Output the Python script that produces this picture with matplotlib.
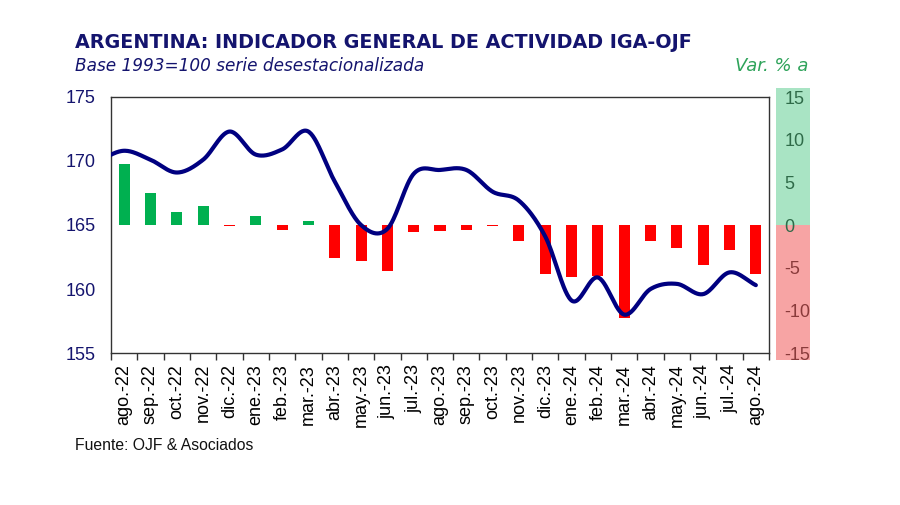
import numpy as np
import matplotlib
matplotlib.use("Agg")
import matplotlib.pyplot as plt
from matplotlib.patches import Rectangle
from matplotlib.transforms import blended_transform_factory

plt.rcParams["axes.unicode_minus"] = False

# ---------------- data ----------------
months = ["ago.-22", "sep.-22", "oct.-22", "nov.-22", "dic.-22", "ene.-23", "feb.-23",
          "mar.-23", "abr.-23", "may.-23", "jun.-23", "jul.-23", "ago.-23", "sep.-23",
          "oct.-23", "nov.-23", "dic.-23", "ene.-24", "feb.-24", "mar.-24", "abr.-24",
          "may.-24", "jun.-24", "jul.-24", "ago.-24"]

# IGA-OJF index, seasonally adjusted (left axis)
index_prev = 170.0  # jul.-22 (only partly visible at the left edge)
index_vals = [170.8, 170.1, 169.1, 170.1, 172.3, 170.5, 170.9, 172.3, 168.4, 165.0,
              164.7, 169.0, 169.3, 169.3, 167.6, 166.9, 164.1, 159.1, 160.9, 158.0,
              160.0, 160.4, 159.6, 161.3, 160.3]

# year-on-year % change (right axis)
yoy_vals = [7.2, 3.8, 1.5, 2.2, -0.1, 1.0, -0.6, 0.5, -3.9, -4.2, -5.4, -0.8, -0.7,
            -0.6, -0.1, -1.9, -5.7, -6.1, -6.0, -10.9, -1.9, -2.7, -4.7, -2.9, -5.7]

left_ticks = [155, 160, 165, 170, 175]
right_ticks = [-15, -10, -5, 0, 5, 10, 15]

# ---------------- style ----------------
NAVY = "#14146e"
LINE = "#000080"
GREEN_BAR = "#00b050"
RED_BAR = "#ff0000"
PANEL_GREEN = "#a9e4c4"
PANEL_RED = "#f7a4a4"

W, H = 900, 505
fig = plt.figure(figsize=(W / 100, H / 100), dpi=100)
fig.patch.set_facecolor("white")

def fx(px):
    return px / W

def fy(py):
    return 1 - py / H

L, R, T, B = 111, 769, 97, 353
ax = fig.add_axes([fx(L), fy(B), fx(R) - fx(L), fy(T) - fy(B)])
ax2 = ax.twinx()
line_ax = ax.twinx()

n = len(months)
x = np.arange(n)

# bars on the right axis
colors = [GREEN_BAR if v >= 0 else RED_BAR for v in yoy_vals]
ax2.bar(x, yoy_vals, width=0.42, color=colors, zorder=2)
ax2.set_ylim(-15, 15)

# smooth line (Catmull-Rom rendering through the monthly points)
xs = np.concatenate([[-1], x]).astype(float)
ys = np.array([index_prev] + index_vals, dtype=float)

def catmull(xp, yp, steps=30):
    px = np.concatenate([[2 * xp[0] - xp[1]], xp, [2 * xp[-1] - xp[-2]]])
    py = np.concatenate([[2 * yp[0] - yp[1]], yp, [2 * yp[-1] - yp[-2]]])
    ox, oy = [], []
    t = np.linspace(0, 1, steps, endpoint=False)
    for i in range(1, len(px) - 2):
        p0, p1, p2, p3 = py[i - 1], py[i], py[i + 1], py[i + 2]
        q0, q1, q2, q3 = px[i - 1], px[i], px[i + 1], px[i + 2]
        for arr, a0, a1, a2, a3 in ((oy, p0, p1, p2, p3), (ox, q0, q1, q2, q3)):
            arr.extend(0.5 * ((2 * a1) + (-a0 + a2) * t + (2 * a0 - 5 * a1 + 4 * a2 - a3) * t ** 2
                              + (-a0 + 3 * a1 - 3 * a2 + a3) * t ** 3))
    ox.append(xp[-1]); oy.append(yp[-1])
    return np.array(ox), np.array(oy)

sx, sy = catmull(xs, ys)
line_ax.plot(sx, sy, color=LINE, lw=3.0, solid_capstyle="round", zorder=3)
line_ax.set_ylim(155, 175)
line_ax.set_xlim(-0.5, n - 0.5)
line_ax.axis("off")

ax.set_ylim(155, 175)
ax.set_xlim(-0.5, n - 0.5)
ax.set_yticks(left_ticks)
ax.yaxis.tick_left()
ax.tick_params(axis="y", length=0, pad=11, labelsize=13, labelcolor=NAVY)
for lab in ax.get_yticklabels():
    lab.set_family(["Liberation Sans", "DejaVu Sans"])

ax.set_xticks(x)
ax.set_xticklabels(months, rotation=90, fontsize=13, family=["Liberation Sans", "DejaVu Sans"])
ax.set_xticks(np.arange(-0.5, n, 1.0), minor=True)
ax.tick_params(axis="x", which="major", length=0, pad=8)
ax.tick_params(axis="x", which="minor", length=5, width=1, color="#333333", direction="out")

for s in ax.spines.values():
    s.set_color("#333333"); s.set_linewidth(1.0)
for s in ax2.spines.values():
    s.set_visible(False)

# right axis colored panel and labels
ax2.yaxis.tick_right()
ax2.set_yticks(right_ticks)
ax2.tick_params(axis="y", length=0, pad=11, labelsize=13)
for lab, v in zip(ax2.get_yticklabels(), right_ticks):
    lab.set_family(["Liberation Sans", "DejaVu Sans"])
    lab.set_color("#2f6b49" if v >= 0 else "#8a3b3b")
    lab.set_horizontalalignment("left")

tr = blended_transform_factory(fig.transFigure, ax2.transData)
ax2.add_patch(Rectangle((fx(776), 0), fx(810) - fx(776), 16.05, transform=tr,
                        facecolor=PANEL_GREEN, edgecolor="none", clip_on=False, zorder=0))
ax2.add_patch(Rectangle((fx(776), -15.8), fx(810) - fx(776), 15.8, transform=tr,
                        facecolor=PANEL_RED, edgecolor="none", clip_on=False, zorder=0))

# texts
fig.text(fx(75), fy(42), "ARGENTINA: INDICADOR GENERAL DE ACTIVIDAD IGA-OJF",
         fontsize=13.8, fontweight="bold", color=NAVY, va="center", ha="left",
         family=["DejaVu Sans"])
fig.text(fx(75), fy(66), "Base 1993=100 serie desestacionalizada",
         fontsize=12.2, style="italic", color=NAVY, va="center", ha="left",
         family=["DejaVu Sans"])
fig.text(fx(808), fy(66), "Var. % a", fontsize=13, style="italic", color="#2ea35a",
         va="center", ha="right", family=["DejaVu Sans"])
fig.text(fx(75), fy(445), "Fuente: OJF & Asociados", fontsize=11.3, color="#111111",
         va="center", ha="left", family=["Liberation Sans", "DejaVu Sans"])

fig.savefig("out.png", dpi=100, facecolor="white")
